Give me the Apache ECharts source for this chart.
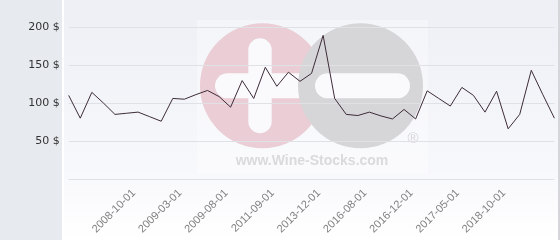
<!DOCTYPE html>
<html>
<head>
<meta charset="utf-8">
<style>
html,body{margin:0;padding:0;background:#fff;}
#chart{width:560px;height:240px;}
</style>
<script src="https://cdn.jsdelivr.net/npm/echarts@6/dist/echarts.min.js"></script>
</head>
<body>
<div id="chart"></div>
<script>
// Series values (price in $), one per sale
const prices = [110, 80, 114, 100, 85, 86.5, 88, 82, 76, 106, 105, 111, 116.5, 108.5, 94.5, 129.5, 106, 147, 122, 140.5, 128.5, 139, 189, 106, 85, 83.5, 88, 83, 79, 91.5, 79, 116, 106, 96, 120.5, 110, 88, 115.5, 66, 85, 143, 111, 80];
// Tick labels shown on the x axis and the sale index they sit at
const dateLabels = ['2008-10-01', '2009-03-01', '2009-08-01', '2011-09-01', '2013-12-01', '2016-08-01', '2016-12-01', '2017-05-01', '2018-10-01'];
const labelIndex = [6, 10, 14, 18, 22, 26, 30, 34, 38];
// Y ticks
const yTicks = [0, 50, 100, 150, 200];

const categories = prices.map((_, i) => {
  const k = labelIndex.indexOf(i);
  return k >= 0 ? dateLabels[k] : '#' + i;
});

const chart = echarts.init(document.getElementById('chart'), null, {renderer: 'canvas'});
chart.setOption({
  animation: false,
  backgroundColor: '#ffffff',
  graphic: [
    {type: 'rect', z: -20, shape: {x: 0, y: 0, width: 62, height: 240}, style: {fill: '#e7eaee'}},
    {type: 'rect', z: -20, shape: {x: 62, y: 0, width: 2, height: 240}, style: {fill: '#ffffff'}},
    {type: 'rect', z: -20, shape: {x: 64, y: 0, width: 494, height: 240},
      style: {fill: new echarts.graphic.LinearGradient(0, 0, 0, 1, [
        {offset: 0, color: '#edeff5'}, {offset: 0.7, color: '#f7f8fb'}, {offset: 1, color: '#ffffff'}])}},
    {type: 'rect', z: -20, shape: {x: 558, y: 0, width: 2, height: 240}, style: {fill: '#d4d6d9'}},
    // watermark
    {type: 'rect', z: -15, shape: {x: 197, y: 20, width: 231, height: 154}, style: {fill: 'rgba(255,255,255,0.35)'}},
    {type: 'circle', z: -14, shape: {cx: 262.5, cy: 85.7, r: 62.5}, style: {fill: '#eacdd5'}},
    {type: 'rect', z: -13, shape: {x: 248.3, y: 38.3, width: 23.4, height: 95, r: 11.7}, style: {fill: '#fafafc'}},
    {type: 'rect', z: -13, shape: {x: 215, y: 73.3, width: 100, height: 25, r: 12.5}, style: {fill: '#fafafc'}},
    {type: 'circle', z: -12, shape: {cx: 360.5, cy: 85.7, r: 62.5}, style: {fill: '#d6d6d8'}},
    {type: 'rect', z: -11, shape: {x: 315, y: 73.3, width: 95, height: 25, r: 12.5}, style: {fill: '#fafafc'}},
    {type: 'text', z: -11, x: 413, y: 139, style: {text: '®', fill: '#d6d6d8', font: '15px "Liberation Sans"', align: 'center', verticalAlign: 'middle'}},
    {type: 'text', z: -11, x: 312, y: 161, style: {text: 'www.Wine-Stocks.com', fill: '#dadadc', font: 'bold 14px "Liberation Sans"', align: 'center', verticalAlign: 'middle'}}
  ],
  grid: {left: 68.7, right: 5.6, top: 27, bottom: 61, show: false},
  xAxis: {
    type: 'category',
    data: categories,
    boundaryGap: false,
    axisLine: {show: false},
    axisTick: {show: false},
    splitLine: {show: false},
    axisLabel: {
      interval: (i) => labelIndex.indexOf(i) >= 0,
      rotate: 45,
      margin: 8,
      padding: [0, 6, 0, 0],
      color: '#808080',
      fontSize: 11,
      fontFamily: 'Liberation Sans'
    }
  },
  yAxis: {
    type: 'value',
    min: yTicks[0],
    max: yTicks[yTicks.length - 1],
    interval: 50,
    axisLine: {show: false},
    axisTick: {show: false},
    splitLine: {show: true, lineStyle: {color: '#e0e1e4', width: 1}},
    axisLabel: {
      margin: 9,
      color: '#333333',
      fontSize: 11,
      fontFamily: 'DejaVu Sans',
      formatter: (v) => v === 0 ? '' : v + ' $'
    }
  },
  series: [{
    type: 'line',
    data: prices,
    showSymbol: false,
    symbol: 'none',
    lineStyle: {color: '#3d2b38', width: 1},
    z: 5
  }]
});
</script>
</body>
</html>
